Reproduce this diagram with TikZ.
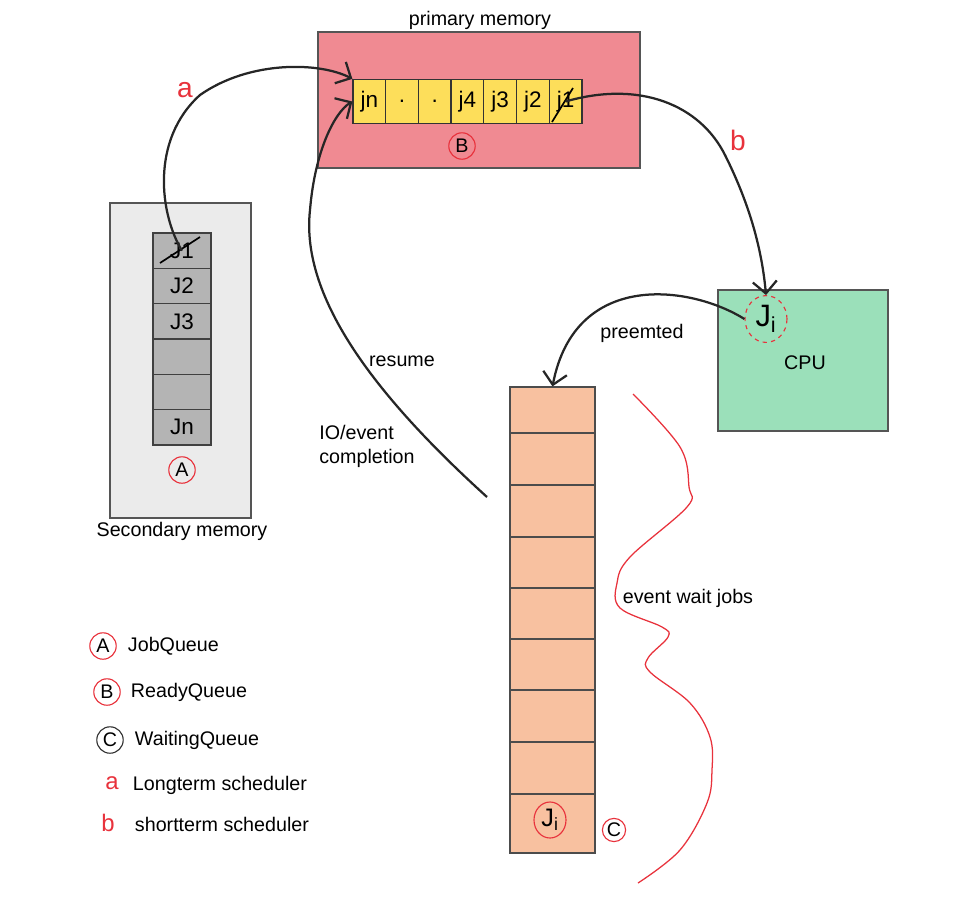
\documentclass[tikz,border=0pt]{standalone}
\usepackage{fontspec}
\setmainfont{Liberation Sans}
\usepackage{tikz}
\usetikzlibrary{arrows.meta, shapes.geometric}

\definecolor{pmemfill}{HTML}{F08A92}
\definecolor{readyfill}{HTML}{FDDE5A}
\definecolor{smemfill}{HTML}{EBEBEB}
\definecolor{jobfill}{HTML}{B4B4B4}
\definecolor{cpufill}{HTML}{9BE0BA}
\definecolor{waitfill}{HTML}{F8C1A0}
\definecolor{edge}{HTML}{555555}
\definecolor{inkred}{HTML}{E8323C}

\tikzset{
  membox/.style={draw=edge, line width=1.1pt, inner sep=0pt},
  rcell/.style={draw=black!80, line width=0.9pt, fill=readyfill, inner sep=0pt,
    minimum width=0.8175cm, minimum height=1.1cm, font=\fontsize{16}{18}\selectfont},
  jcell/.style={draw=black!75, line width=0.9pt, fill=jobfill, inner sep=0pt,
    minimum width=1.45cm, minimum height=0.883cm, font=\fontsize{16}{18}\selectfont},
  wcell/.style={draw=black!70, line width=0.9pt, fill=waitfill, inner sep=0pt,
    minimum width=2.125cm},
  tag/.style={circle, draw=inkred, line width=0.8pt, inner sep=0pt, minimum size=0.66cm},
  conn/.style={->, line width=1.6pt, black!85},
}

\begin{document}
\begin{tikzpicture}[x=0.025cm, y=-0.025cm, font=\fontsize{14}{17}\selectfont,
    >={Straight Barb[length=3mm,width=6mm]}]
  \useasboundingbox (0,0) rectangle (960,916);

  % Memory boxes
  \node[membox, fill=pmemfill, minimum width=8.05cm, minimum height=3.4cm] (pmem) at (479,100) {};
  \node[membox, fill=smemfill, minimum width=3.525cm, minimum height=7.875cm] (smem) at (180.5,360.5) {};
  \node[membox, fill=cpufill, minimum width=4.25cm, minimum height=3.525cm] (cpu) at (803,360.5) {};
  \node (pmemlbl) at (480,20) {primary memory};
  \node (smemlbl) at (182,531) {Secondary memory};
  \node (cpulbl) at (805,363) {CPU};

  % Ready queue
  \foreach \t [count=\i] in {jn,.,.,j4,j3,j2,j1} {
    \node[rcell] (r\i) at ({353+32.7*(\i-0.5)},101.5) {\t};
  }
  \draw[line width=1.2pt] (552,122) -- (573,88);
  \node[tag] (tagb) at (462,146) {B};

  % Job queue
  \foreach \t [count=\i] in {J1,J2,J3,{},{},Jn} {
    \node[jcell] (s\i) at (182,{233+35.33*(\i-0.5)}) {\t};
  }
  \draw[line width=1.2pt] (160,263) -- (200,237);
  \node[tag] (taga) at (182,470) {A};

  % Waiting queue
  \foreach \a/\b [count=\i] in {387/433,433/485,485/537,537/588,588/639,639/690,690/742,742/794,794/853} {
    \node[wcell, minimum height={(\b-\a)*0.025cm}] (w\i) at (552.5,{(\a+\b)/2}) {};
  }
  \node[ellipse, draw=inkred, line width=0.8pt, inner sep=0pt, minimum width=0.8cm,
    minimum height=0.9cm, font=\fontsize{18}{20}\selectfont] (wji) at (550,820) {J\textsubscript{i}};
  \node[tag, minimum size=0.58cm] (tagc) at (614,830) {C};

  % Job in the CPU
  \node[ellipse, draw=inkred, dashed, line width=0.8pt, inner sep=0pt, minimum width=1.05cm,
    minimum height=1.17cm, font=\fontsize{22}{24}\selectfont] (ji) at (766,319) {J\textsubscript{i}};

  % Event wait region
  \draw[inkred, line width=0.9pt] plot[smooth, tension=0.6] coordinates {(633,394) (680,447)
    (689,487) (687,507) (630,557) (617,583) (620,608) (662,627) (668,637) (648,658) (650,672)
    (690,703) (710,737) (712,770) (707,803) (680,850) (638,883)};
  \node (waitlbl) at (688,598) {event wait jobs};

  % Schedulers and transitions
  \draw[conn] (s1.center) .. controls (160,215) and (150,140) .. (200,95)
    .. controls (250,60) and (320,62) .. (r1.north west);
  \node[inkred, font=\fontsize{20}{22}\selectfont] (lbla) at (185,90) {a};
  \draw[conn] (r7.center) .. controls (640,80) and (700,105) .. (725,155)
    .. controls (750,205) and (762,250) .. (ji.north);
  \node[inkred, font=\fontsize{20}{22}\selectfont] (lblb) at (738,140) {b};
  \draw[conn] (ji.west) .. controls (690,285) and (575,270) .. (w1.north);
  \node (prelbl) at (642,333) {preemted};
  \coordinate (evt) at (487,497);
  \draw[conn] (evt) .. controls (380,400) and (300,300) .. (310,210)
    .. controls (315,150) and (335,112) .. (r1.west);
  \node (reslbl) at (402,361) {resume};
  \node[align=left] (iolbl) at (367,446) {IO/event\\completion};

  % Legend
  \node[tag] (ka) at (103,646) {A};
  \node[anchor=west] (kat) at (123,646) {JobQueue};
  \node[tag] (kb) at (107,692) {B};
  \node[anchor=west] (kbt) at (126,692) {ReadyQueue};
  \node[tag, draw=black!80] (kc) at (110,740) {C};
  \node[anchor=west] (kct) at (130,740) {WaitingQueue};
  \node[inkred, font=\fontsize{17}{20}\selectfont] (kl) at (112,783) {a};
  \node[anchor=west] (klt) at (128,785) {Longterm scheduler};
  \node[inkred, font=\fontsize{17}{20}\selectfont] (ks) at (108,823) {b};
  \node[anchor=west] (kst) at (130,824) {shortterm scheduler};

\end{tikzpicture}
\end{document}
